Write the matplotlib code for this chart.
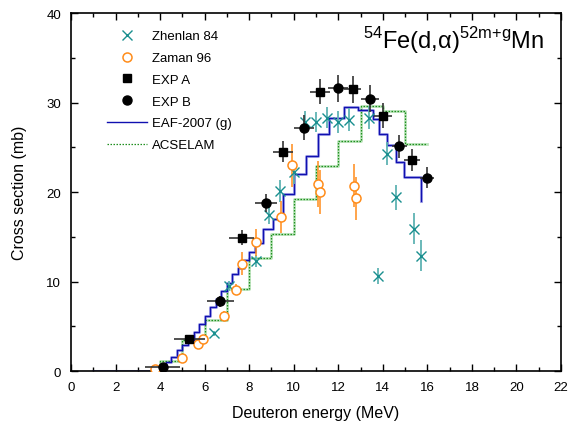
import numpy as np
import matplotlib
matplotlib.use("Agg")
import matplotlib.pyplot as plt
from matplotlib.ticker import MultipleLocator
from matplotlib.lines import Line2D

plt.rcParams['font.family'] = ['Liberation Sans', 'DejaVu Sans']

# Zhenlan 84
zh_e = [6.4, 7.1, 8.3, 8.9, 9.4, 10.0, 10.5, 11.0, 11.5, 12.0, 12.5, 13.4, 13.8, 14.2, 14.6, 15.4, 15.7]
zh_s = [4.2, 9.5, 12.3, 17.4, 20.1, 22.2, 27.8, 27.8, 28.3, 27.8, 28.1, 28.3, 10.6, 24.3, 19.4, 15.9, 12.9]
zh_ds = [0.3, 0.6, 0.7, 1.0, 1.2, 1.3, 1.2, 1.1, 1.2, 1.2, 1.3, 1.3, 0.9, 1.3, 1.4, 1.7, 1.7]

# Zaman 96
za_e = [3.78, 4.99, 5.69, 5.92, 6.89, 7.39, 7.69, 8.32, 9.41, 9.9, 11.1, 11.2, 12.7, 12.8]
za_s = [0.2, 1.5, 3.0, 3.6, 6.2, 9.1, 12.0, 14.4, 17.2, 23.0, 20.9, 20.0, 20.7, 19.3]
za_ds = [0.1, 0.2, 0.3, 0.4, 0.5, 0.6, 1.3, 1.5, 1.8, 2.4, 2.6, 2.5, 2.4, 2.4]
za_de = [0.15] * len(za_e)

# EXP A
a_e = [5.32, 7.66, 9.52, 11.17, 12.64, 14.02, 15.3]
a_s = [3.6, 14.9, 24.5, 31.2, 31.5, 28.5, 23.6]
a_de = [0.7, 0.55, 0.45, 0.45, 0.4, 0.4, 0.35]
a_ds = [0.4, 0.8, 1.2, 1.4, 1.5, 1.4, 1.2]

# EXP B
b_e = [4.11, 6.71, 8.74, 10.46, 12.0, 13.42, 14.74, 15.98]
b_s = [0.4, 7.8, 18.8, 27.2, 31.6, 30.4, 25.1, 21.6]
b_de = [0.8, 0.6, 0.5, 0.45, 0.45, 0.4, 0.35, 0.3]
b_ds = [0.2, 0.6, 1.0, 1.4, 1.5, 1.5, 1.3, 1.2]

# EAF-2007 (g) histogram: bin edges and bin values
eaf_edges = [1.0, 3.75, 4.0, 4.25, 4.5, 4.75, 5.0, 5.25, 5.5, 5.75, 6.0, 6.25, 6.5,
             6.75, 7.0, 7.25, 7.5, 7.75, 8.0, 8.25, 8.6, 9.05, 9.5, 10.0, 10.55,
             11.07, 11.6, 12.25, 12.87, 13.55, 13.85, 14.2, 14.57, 14.95, 15.72]
eaf_vals = [0.0, 0.3, 0.6, 1.0, 1.6, 2.3, 2.9, 3.5, 4.4, 5.2, 6.1, 7.2, 8.0,
            8.9, 9.8, 10.8, 11.5, 12.4, 13.3, 14.3, 15.9, 17.0, 19.8, 22.0, 24.0,
            26.5, 28.3, 29.5, 29.2, 28.2, 26.5, 25.2, 23.4, 21.7]
eaf_end = 19.0

# ACSELAM histogram
acs_edges = [4, 5, 6, 7, 8, 9, 10, 11, 12, 13, 14, 15, 16]
acs_vals = [1.15, 3.5, 5.7, 9.2, 12.6, 15.3, 19.2, 22.9, 25.7, 29.6, 29.1, 25.4]

fig = plt.figure(figsize=(5.68, 4.27), dpi=100)
ax = fig.add_axes([0.125, 0.1288, 0.8627, 0.8384])

teal = '#1a8f8f'
orange = '#ff8c1a'
blue = '#1010b0'
green = '#1f8f1f'
green_dots = (0, (1.2, 1.2))

# step lines
ex = np.repeat(eaf_edges, 2)[1:-1]
ey = np.repeat(eaf_vals, 2)
ex = np.append(ex, eaf_edges[-1])
ey = np.append(ey, eaf_end)
ax.plot(ex, ey, color='#8080e0', lw=2.2, alpha=0.6, zorder=2)
ax.plot(ex, ey, color=blue, lw=1.0, zorder=2.1)

gx = np.concatenate([[acs_edges[0]], np.repeat(acs_edges, 2)[1:-1]])
gy = np.concatenate([[0.0], np.repeat(acs_vals, 2)])
ax.plot(gx, gy, color='#a8dca8', lw=2.0, alpha=0.8, zorder=1.9)
ax.plot(gx, gy, color=green, lw=0.9, ls=green_dots, zorder=2)

# data points
ax.errorbar(zh_e, zh_s, yerr=zh_ds, fmt='x', color=teal, ecolor='#5fb3b3',
            ms=7, mew=1.0, elinewidth=1.3, capsize=0, zorder=3)
ax.errorbar(za_e, za_s, xerr=za_de, yerr=za_ds, fmt='o', mfc='white', mec=orange,
            ecolor=orange, ms=6.5, mew=1.1, elinewidth=1.1, capsize=0, zorder=3)
ax.errorbar(a_e, a_s, xerr=a_de, yerr=a_ds, fmt='s', color='black', ecolor='#333333',
            ms=6, elinewidth=1.2, capsize=0, zorder=4)
ax.errorbar(b_e, b_s, xerr=b_de, yerr=b_ds, fmt='o', color='black', ecolor='#333333',
            ms=6.5, elinewidth=1.2, capsize=0, zorder=4)

ax.set_xlim(0, 22)
ax.set_ylim(0, 40)
ax.xaxis.set_major_locator(MultipleLocator(2))
ax.xaxis.set_minor_locator(MultipleLocator(1))
ax.yaxis.set_major_locator(MultipleLocator(10))
ax.yaxis.set_minor_locator(MultipleLocator(5))
ax.tick_params(which='both', direction='in', top=True, right=True, labelsize=9.5)
ax.tick_params(which='major', length=5, width=1, pad=7)
ax.tick_params(which='minor', length=3, width=1)
for s in ax.spines.values():
    s.set_linewidth(1.2)

ax.set_xlabel('Deuteron energy (MeV)', fontsize=11.5, labelpad=9)
ax.set_ylabel('Cross section (mb)', fontsize=11.5, labelpad=14)

ax.text(0.965, 0.925,
        r'$^{\mathregular{54}}$Fe(d,$\mathregular{\alpha}$)$^{\mathregular{52m{+}g}}$Mn',
        transform=ax.transAxes, ha='right', va='center', fontsize=17)

# legend shows markers only, without error bars
handles = [
    Line2D([], [], ls='none', marker='x', color=teal, ms=7, mew=1.0),
    Line2D([], [], ls='none', marker='o', mfc='white', mec=orange, ms=6.5, mew=1.1),
    Line2D([], [], ls='none', marker='s', color='black', ms=6),
    Line2D([], [], ls='none', marker='o', color='black', ms=6.5),
    Line2D([], [], color=blue, lw=1.0),
    Line2D([], [], color=green, lw=0.9, ls=green_dots),
]
labels = ['Zhenlan 84', 'Zaman 96', 'EXP A', 'EXP B', 'EAF-2007 (g)', 'ACSELAM']
ax.legend(handles, labels, loc='upper left', bbox_to_anchor=(0.05, 0.985),
          frameon=False, fontsize=9.5, handlelength=3.0, labelspacing=0.72,
          handletextpad=0.4)

fig.savefig('out.png', dpi=100)
